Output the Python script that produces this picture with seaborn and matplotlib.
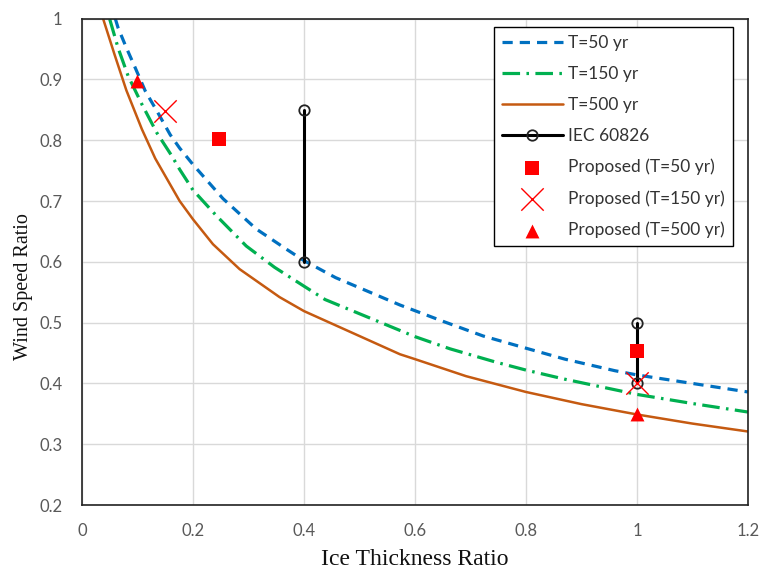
import numpy as np
import pandas as pd
import matplotlib
matplotlib.use("Agg")
import matplotlib.pyplot as plt
import seaborn as sns

# ---- data ----
x_t50 = [0.060, 0.065, 0.080, 0.096, 0.114, 0.135, 0.159, 0.176, 0.200, 0.254, 0.314,
         0.368, 0.400, 0.457, 0.573, 0.651, 0.723, 0.800, 0.870, 0.960, 1.000, 1.100, 1.200]
y_t50 = [1.000, 0.985, 0.952, 0.919, 0.881, 0.848, 0.809, 0.787, 0.760, 0.704, 0.654,
         0.621, 0.602, 0.574, 0.529, 0.502, 0.478, 0.458, 0.440, 0.421, 0.414, 0.400, 0.386]

x_t150 = [0.050, 0.065, 0.083, 0.108, 0.135, 0.162, 0.176, 0.200, 0.242, 0.296, 0.347,
          0.400, 0.438, 0.600, 0.663, 0.746, 0.800, 0.870, 1.000, 1.100, 1.200]
y_t150 = [0.999, 0.952, 0.906, 0.859, 0.812, 0.774, 0.752, 0.718, 0.676, 0.626, 0.591,
          0.560, 0.538, 0.477, 0.457, 0.435, 0.422, 0.407, 0.382, 0.367, 0.353]

x_t500 = [0.038, 0.059, 0.080, 0.108, 0.132, 0.176, 0.200, 0.236, 0.284, 0.356, 0.400,
          0.573, 0.600, 0.692, 0.800, 0.900, 1.000, 1.100, 1.200]
y_t500 = [1.000, 0.940, 0.882, 0.818, 0.770, 0.700, 0.670, 0.629, 0.588, 0.542, 0.519,
          0.448, 0.440, 0.412, 0.386, 0.366, 0.349, 0.334, 0.321]

iec_x = [0.4, 0.4, 1.0, 1.0]
iec_y = [0.85, 0.60, 0.50, 0.40]
iec_seg = [0, 0, 1, 1]

prop50_x, prop50_y = [0.246, 1.0], [0.802, 0.454]
prop150_x, prop150_y = [0.15, 1.0], [0.848, 0.400]
prop500_x, prop500_y = [0.10, 1.0], [0.898, 0.349]

x_ticks = [0, 0.2, 0.4, 0.6, 0.8, 1.0, 1.2]
x_tick_labels = ["0", "0.2", "0.4", "0.6", "0.8", "1", "1.2"]
y_ticks = [0.2, 0.3, 0.4, 0.5, 0.6, 0.7, 0.8, 0.9, 1.0]
y_tick_labels = ["0.2", "0.3", "0.4", "0.5", "0.6", "0.7", "0.8", "0.9", "1"]

# ---- styling ----
sns.set_theme(style="whitegrid")
plt.rcParams["font.family"] = ["Lato", "DejaVu Sans"]

fig = plt.figure(figsize=(7.64, 5.72), dpi=100)
ax = fig.add_axes([0.1073, 0.117, 0.8717, 0.8505])

c50, c150, c500, cred = "#0070C0", "#00B050", "#C55A11", "#FF0000"

sns.lineplot(x=x_t50, y=y_t50, ax=ax, color=c50, lw=2.3, sort=False, estimator=None,
             label="T=50 yr")
ax.lines[-1].set_dashes((3.2, 2.2))
sns.lineplot(x=x_t150, y=y_t150, ax=ax, color=c150, lw=2.3, sort=False, estimator=None,
             label="T=150 yr")
ax.lines[-1].set_dashes((5.5, 2.0, 0.8, 2.0))
sns.lineplot(x=x_t500, y=y_t500, ax=ax, color=c500, lw=1.8, sort=False, estimator=None,
             label="T=500 yr")

iec_df = pd.DataFrame({"x": iec_x, "y": iec_y, "seg": iec_seg})
sns.lineplot(data=iec_df, x="x", y="y", units="seg", estimator=None, sort=False, ax=ax,
             color="black", lw=2.2, marker="o", markersize=7.5, markerfacecolor="none",
             markeredgecolor="#222222", markeredgewidth=1.3, zorder=4, legend=False)
iec_line = ax.lines[-1]
iec_line.set_label("IEC 60826")

sns.scatterplot(x=prop50_x, y=prop50_y, ax=ax, marker="s", s=115, color=cred,
                edgecolor=cred, linewidth=0, zorder=5, label="Proposed (T=50 yr)")
sns.scatterplot(x=prop150_x, y=prop150_y, ax=ax, marker="x", s=260, color=cred,
                linewidth=1.0, zorder=5, label="Proposed (T=150 yr)")
sns.scatterplot(x=prop500_x, y=prop500_y, ax=ax, marker="^", s=100, color=cred,
                edgecolor=cred, linewidth=0, zorder=5, label="Proposed (T=500 yr)")

ax.set_xlim(0, 1.2)
ax.set_ylim(0.2, 1.0)
ax.set_xticks(x_ticks)
ax.set_xticklabels(x_tick_labels)
ax.set_yticks(y_ticks)
ax.set_yticklabels(y_tick_labels)
ax.tick_params(axis="both", length=0, labelsize=12, colors="#595959")
ax.tick_params(axis="y", pad=14)
ax.tick_params(axis="x", pad=13)

ax.grid(True, color="#d9d9d9", lw=1.0)
ax.set_facecolor("white")
for sp in ax.spines.values():
    sp.set_visible(True)
    sp.set_color("#222222")
    sp.set_linewidth(1.2)

ax.set_xlabel("Ice Thickness Ratio", family="Liberation Serif", fontsize=17,
              color="#111111", labelpad=7)
ax.set_ylabel("Wind Speed Ratio", family="Liberation Serif", fontsize=14.5,
              color="#111111")
ax.yaxis.set_label_coords(-0.074, 0.45)

handles, labels = ax.get_legend_handles_labels()
order = ["T=50 yr", "T=150 yr", "T=500 yr", "IEC 60826",
         "Proposed (T=50 yr)", "Proposed (T=150 yr)", "Proposed (T=500 yr)"]
hmap = dict(zip(labels, handles))
hmap["IEC 60826"] = iec_line
leg = ax.legend([hmap[k] for k in order], order, loc="upper right",
                bbox_to_anchor=(0.977, 0.982), borderaxespad=0, fontsize=12.5,
                frameon=True, fancybox=False, edgecolor="black", framealpha=1,
                handlelength=3.5, handletextpad=0.3, labelspacing=0.86,
                borderpad=0.45)
leg.get_frame().set_linewidth(1.0)
for t in leg.get_texts():
    t.set_color("#333333")

fig.savefig("out.png", dpi=100, facecolor="white")
